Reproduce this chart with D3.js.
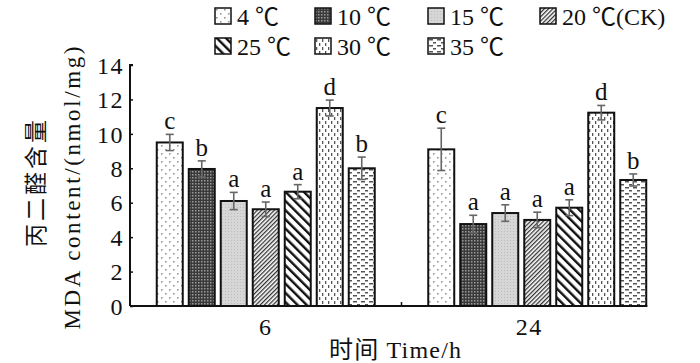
<!DOCTYPE html>
<html>
<head>
<meta charset="utf-8">
<script src="https://cdn.jsdelivr.net/npm/d3@7"></script>
<style>
  body { margin: 0; background: #fff; }
  text { font-family: "Liberation Serif", "Noto Sans CJK SC", serif; fill: #111; }
</style>
</head>
<body>
<div id="chart"></div>
<script>
// MDA content by temperature, 6 h and 24 h
const groups = ["6", "24"];
const temps = ["4 ℃", "10 ℃", "15 ℃", "20 ℃(CK)", "25 ℃", "30 ℃", "35 ℃"];
const mean6 = [9.5, 7.96, 6.1, 5.62, 6.64, 11.5, 8.0];
const err6 = [0.47, 0.47, 0.5, 0.42, 0.41, 0.46, 0.65];
const mean24 = [9.1, 4.76, 5.4, 5.0, 5.71, 11.23, 7.32];
const err24 = [1.23, 0.51, 0.48, 0.45, 0.46, 0.42, 0.35];
const sig6 = ["c", "b", "a", "a", "a", "d", "b"];
const sig24 = ["c", "a", "a", "a", "a", "d", "b"];
const yTicks = [0, 2, 4, 6, 8, 10, 12, 14];

let width = 700, height = 363,
  margin = ({ top: 65, right: 27, bottom: 57, left: 130 });

const svg = d3.select("#chart")
  .append("svg")
  .attr("width", width)
  .attr("height", height);

// fill patterns, one per temperature
const defs = svg.append("defs");
const pat = (id, w, h) => defs.append("pattern")
  .attr("id", id).attr("patternUnits", "userSpaceOnUse")
  .attr("width", w).attr("height", h);

let p = pat("p0", 8, 8);
p.append("rect").attr("width", 8).attr("height", 8).attr("fill", "#fff");
p.append("rect").attr("x", 1).attr("y", 1).attr("width", 1.6).attr("height", 1.6).attr("fill", "#999");
p.append("rect").attr("x", 5).attr("y", 5).attr("width", 1.6).attr("height", 1.6).attr("fill", "#999");

p = pat("p1", 3, 3);
p.append("rect").attr("width", 3).attr("height", 3).attr("fill", "#3a3a3a");
p.append("rect").attr("width", 1.5).attr("height", 1.5).attr("fill", "#9a9a9a");

p = pat("p2", 3, 3);
p.append("rect").attr("width", 3).attr("height", 3).attr("fill", "#d6d6d6");
p.append("rect").attr("width", 1).attr("height", 1).attr("fill", "#bdbdbd");

p = pat("p3", 3, 3).attr("patternTransform", "rotate(45)");
p.append("rect").attr("width", 3).attr("height", 3).attr("fill", "#fff");
p.append("rect").attr("width", 1.3).attr("height", 3).attr("fill", "#333");

p = pat("p4", 6.5, 6.5).attr("patternTransform", "rotate(-45)");
p.append("rect").attr("width", 6.5).attr("height", 6.5).attr("fill", "#fff");
p.append("rect").attr("width", 2.4).attr("height", 6.5).attr("fill", "#111");

p = pat("p5", 6, 8);
p.append("rect").attr("width", 6).attr("height", 8).attr("fill", "#fff");
p.append("rect").attr("x", 1).attr("y", 1).attr("width", 1.3).attr("height", 3).attr("fill", "#555");
p.append("rect").attr("x", 4).attr("y", 5).attr("width", 1.3).attr("height", 3).attr("fill", "#555");

p = pat("p6", 8, 6);
p.append("rect").attr("width", 8).attr("height", 6).attr("fill", "#fff");
p.append("rect").attr("x", 1).attr("y", 1).attr("width", 4).attr("height", 1.5).attr("fill", "#555");
p.append("rect").attr("x", 5).attr("y", 4).attr("width", 4).attr("height", 1.5).attr("fill", "#555");

const fills = temps.map((d, i) => `url(#p${i})`);

let x0 = d3.scaleBand()
  .domain(groups)
  .range([margin.left, 673]);

let x1 = d3.scaleBand()
  .domain(temps)
  .range([0, x0.bandwidth()])
  .paddingInner(0.1875)
  .paddingOuter(0.836);

let y = d3.scaleLinear()
  .domain([0, 14])
  .range([height - margin.bottom, margin.top]);

const y0 = y(0);

const rows = groups.map((g, gi) => temps.map((t, i) => ({
  group: g, temp: t, i: i,
  mean: gi === 0 ? mean6[i] : mean24[i],
  err: gi === 0 ? err6[i] : err24[i],
  sig: gi === 0 ? sig6[i] : sig24[i]
}))).flat();

// bars
svg.append("g")
  .selectAll("rect")
  .data(rows)
  .join("rect")
  .attr("x", d => x0(d.group) + x1(d.temp))
  .attr("y", d => y(d.mean))
  .attr("width", x1.bandwidth())
  .attr("height", d => y0 - y(d.mean))
  .attr("fill", d => fills[d.i])
  .attr("stroke", "#111")
  .attr("stroke-width", 2);

// error bars
const eb = svg.append("g")
  .attr("stroke", "#666")
  .attr("stroke-width", 1.6)
  .selectAll("g")
  .data(rows)
  .join("g")
  .attr("transform", d => `translate(${x0(d.group) + x1(d.temp) + x1.bandwidth() / 2},0)`);

eb.append("line")
  .attr("y1", d => y(d.mean + d.err))
  .attr("y2", d => y(d.mean - d.err));
eb.append("line")
  .attr("x1", -4).attr("x2", 4)
  .attr("y1", d => y(d.mean + d.err))
  .attr("y2", d => y(d.mean + d.err));
eb.append("line")
  .attr("x1", -4).attr("x2", 4)
  .attr("y1", d => y(d.mean - d.err))
  .attr("y2", d => y(d.mean - d.err));

// significance letters
svg.append("g")
  .selectAll("text")
  .data(rows)
  .join("text")
  .attr("x", d => x0(d.group) + x1(d.temp) + x1.bandwidth() / 2)
  .attr("y", d => y(d.mean + d.err) - 5)
  .attr("text-anchor", "middle")
  .attr("font-size", 25)
  .text(d => d.sig);

// y axis
svg.append("g")
  .attr("transform", `translate(${margin.left},0)`)
  .call(d3.axisRight(y).tickValues(yTicks).tickSize(3).tickFormat(d => d))
  .call(g => g.select(".domain").attr("stroke", "#111").attr("stroke-width", 2).attr("d", `M3,${y(14)}H0V${y0}`))
  .call(g => g.selectAll(".tick line").attr("stroke", "#111").attr("stroke-width", 1.5))
  .call(g => g.selectAll(".tick text")
    .attr("x", -6).attr("text-anchor", "end")
    .attr("font-size", 24).attr("font-family", null)
    .attr("letter-spacing", 1.5).attr("dy", "0.34em"));

// x axis
svg.append("g")
  .call(g => g.append("line")
    .attr("x1", margin.left).attr("x2", x0("24") + x1(temps[6]) + x1.bandwidth() + 1)
    .attr("y1", y0).attr("y2", y0)
    .attr("stroke", "#111").attr("stroke-width", 2))
  .call(g => g.append("line")
    .attr("x1", x0("24")).attr("x2", x0("24"))
    .attr("y1", y0).attr("y2", y0 - 4)
    .attr("stroke", "#111").attr("stroke-width", 1.5))
  .selectAll("text")
  .data(groups)
  .join("text")
  .attr("x", d => x0(d) + x0.bandwidth() / 2 - (d === "24" ? 8 : 0))
  .attr("y", y0 + 29)
  .attr("text-anchor", "middle")
  .attr("font-size", 24)
  .attr("letter-spacing", 1.5)
  .text(d => d);

// axis titles
svg.append("text")
  .attr("x", 395)
  .attr("y", 358)
  .attr("text-anchor", "middle")
  .attr("font-size", 24)
  .attr("textLength", 132)
  .attr("lengthAdjust", "spacing")
  .text("时间 Time/h");

svg.append("text")
  .attr("transform", "translate(44,182) rotate(-90)")
  .attr("text-anchor", "middle")
  .attr("font-size", 23)
  .attr("letter-spacing", 3)
  .text("丙二醛含量");

svg.append("text")
  .attr("transform", "translate(80,188) rotate(-90)")
  .attr("text-anchor", "middle")
  .attr("font-size", 23)
  .attr("textLength", 283)
  .attr("lengthAdjust", "spacing")
  .text("MDA content/(nmol/mg)");

// legend
const legX = [215, 315, 428, 540];
const legend = svg.append("g")
  .selectAll("g")
  .data(temps)
  .join("g")
  .attr("transform", (d, i) => `translate(${legX[i % 4]},${i < 4 ? 8 : 38})`);

legend.append("rect")
  .attr("width", 16).attr("height", 16)
  .attr("fill", (d, i) => fills[i])
  .attr("stroke", "#111").attr("stroke-width", 1.5);

legend.append("text")
  .attr("x", 22)
  .attr("y", 17)
  .attr("font-size", 24)
  .text(d => d);
</script>
</body>
</html>
